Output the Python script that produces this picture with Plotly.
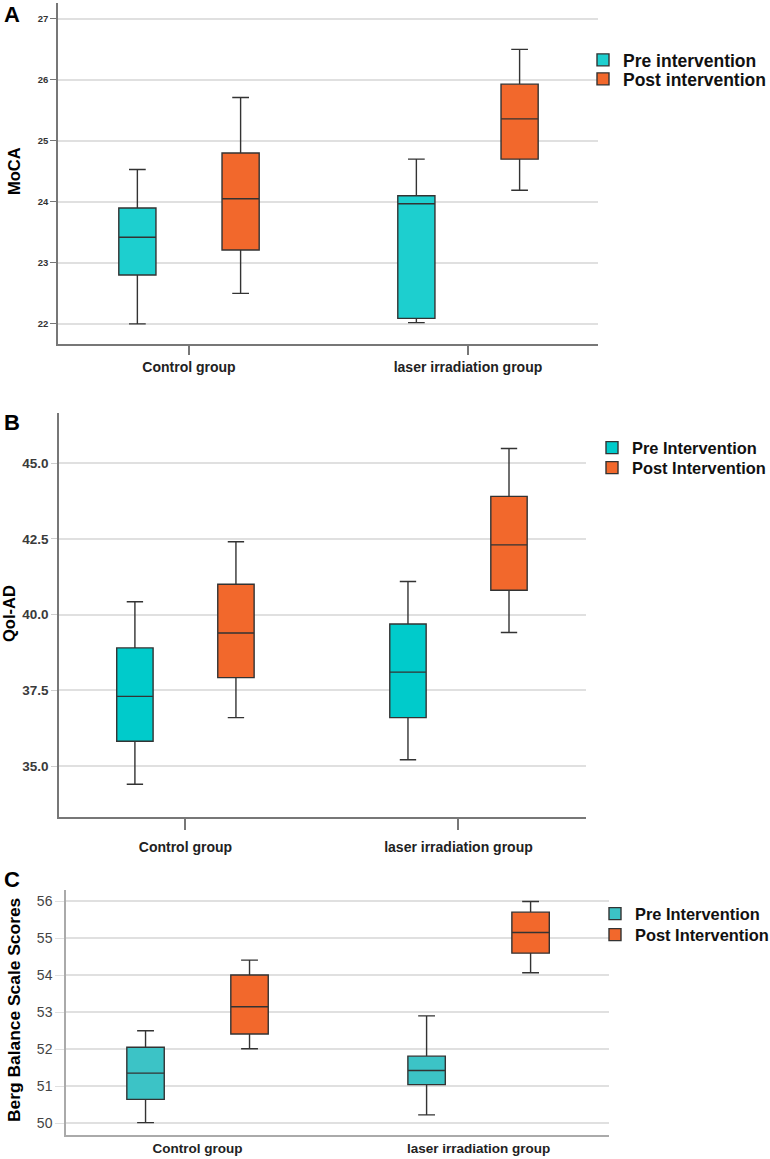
import plotly.graph_objects as go

groups = ["Control group", "laser irradiation group"]

# Panel A: MoCA
moca_pre_low = [22.00, 22.02]
moca_pre_q1 = [22.80, 22.09]
moca_pre_med = [23.42, 23.97]
moca_pre_q3 = [23.90, 24.10]
moca_pre_high = [24.53, 24.70]
moca_post_low = [22.50, 24.19]
moca_post_q1 = [23.21, 24.70]
moca_post_med = [24.05, 25.36]
moca_post_q3 = [24.80, 25.93]
moca_post_high = [25.71, 26.50]

# Panel B: QoL-AD
qol_pre_low = [34.40, 35.21]
qol_pre_q1 = [35.82, 36.60]
qol_pre_med = [37.30, 38.10]
qol_pre_q3 = [38.90, 39.69]
qol_pre_high = [40.42, 41.09]
qol_post_low = [36.60, 39.41]
qol_post_q1 = [37.92, 40.80]
qol_post_med = [39.39, 42.30]
qol_post_q3 = [41.00, 43.90]
qol_post_high = [42.40, 45.48]

# Panel C: Berg Balance Scale
bbs_pre_low = [50.01, 50.22]
bbs_pre_q1 = [50.64, 51.04]
bbs_pre_med = [51.35, 51.42]
bbs_pre_q3 = [52.05, 51.81]
bbs_pre_high = [52.50, 52.90]
bbs_post_low = [52.01, 54.07]
bbs_post_q1 = [52.41, 54.60]
bbs_post_med = [53.15, 55.16]
bbs_post_q3 = [54.01, 55.71]
bbs_post_high = [54.41, 56.00]

FONT = "Liberation Sans"
W, H = 770, 1159
ORANGE = "#f2682c"
LINE = "#333333"

fig = go.Figure()

def add_box(name, low, q1, med, q3, high, color, ax, legend, group):
    fig.add_trace(go.Box(
        name=name, x=groups, lowerfence=low, q1=q1, median=med, q3=q3, upperfence=high,
        fillcolor=color, line=dict(color=LINE, width=1.4), whiskerwidth=0.45,
        xaxis="x" + ax, yaxis="y" + ax, legend=legend,
        offsetgroup=group, alignmentgroup="g" + (ax or "1"),
        boxpoints=False, hoverinfo="y",
    ))

add_box("Pre intervention", moca_pre_low, moca_pre_q1, moca_pre_med, moca_pre_q3, moca_pre_high, "#1dcfcf", "", "legend", "pre")
add_box("Post intervention", moca_post_low, moca_post_q1, moca_post_med, moca_post_q3, moca_post_high, ORANGE, "", "legend2", "post")
add_box("Pre Intervention", qol_pre_low, qol_pre_q1, qol_pre_med, qol_pre_q3, qol_pre_high, "#00cbcb", "2", "legend3", "pre")
add_box("Post Intervention", qol_post_low, qol_post_q1, qol_post_med, qol_post_q3, qol_post_high, ORANGE, "2", "legend4", "post")
add_box("Pre Intervention", bbs_pre_low, bbs_pre_q1, bbs_pre_med, bbs_pre_q3, bbs_pre_high, "#3cc3c6", "3", "legend5", "pre")
add_box("Post Intervention", bbs_post_low, bbs_post_q1, bbs_post_med, bbs_post_q3, bbs_post_high, ORANGE, "3", "legend6", "post")

def px_x(a, b):
    return [a / W, b / W]

def px_y(top, bottom):
    return [1 - bottom / H, 1 - top / H]

def xaxis(dom, rng, anchor, ticks, ticklen, linecolor, standoff, size):
    return dict(domain=dom, range=rng, anchor=anchor, type="category",
                showline=True, linecolor=linecolor, linewidth=1.5, showgrid=False,
                ticks=ticks, ticklen=ticklen, tickcolor="#777", tickwidth=1.5,
                ticklabelstandoff=standoff,
                tickfont=dict(family=FONT, size=size, color="#222", weight="bold"),
                zeroline=False, fixedrange=True, automargin=False)

def yaxis(dom, rng, anchor, tickvals, ticktext, size, weight, color, ticklen, tickcolor, linecolor):
    return dict(domain=dom, range=rng, anchor=anchor, showline=True, linecolor=linecolor,
                linewidth=1.5, showgrid=True, gridcolor="#e0e0e0", gridwidth=1.5,
                tickvals=tickvals, ticktext=ticktext, ticks="outside", ticklen=ticklen,
                tickcolor=tickcolor, tickwidth=1.2,
                tickfont=dict(family=FONT, size=size, color=color, weight=weight),
                zeroline=False, fixedrange=True, automargin=False)

a_ticks = [22, 23, 24, 25, 26, 27]
b_ticks = [35.0, 37.5, 40.0, 42.5, 45.0]
c_ticks = [50, 51, 52, 53, 54, 55, 56]

def leg(x_text, y_center, size):
    return dict(x=(x_text - 40) / W, y=1 - y_center / H, xanchor="left", yanchor="middle",
                font=dict(family=FONT, size=size, color="#111", weight="bold"),
                bgcolor="rgba(0,0,0,0)", itemclick=False, itemdoubleclick=False)

fig.update_layout(
    width=W, height=H, margin=dict(l=0, r=0, t=0, b=0, autoexpand=False),
    paper_bgcolor="white", plot_bgcolor="white",
    boxmode="group", boxgap=0.26, boxgroupgap=0.64,
    xaxis=xaxis(px_x(58, 598), [-0.4695, 1.466], "y", "outside", 9, "#777", 0, 14),
    yaxis=yaxis(px_y(3, 344), [21.67, 27.26], "x", a_ticks, [str(v) for v in a_ticks], 9.5, "bold", "#333", 6, "#777", "#777"),
    xaxis2=xaxis(px_x(59, 586), [-0.463, 1.467], "y2", "outside", 11, "#777", 5, 14),
    yaxis2=yaxis(px_y(413, 817), [33.32, 46.65], "x2", b_ticks, ["%.1f" % v for v in b_ticks], 13.5, "bold", "#3a3a3a", 6, "#cfcfcf", "#777"),
    xaxis3=xaxis(px_x(66, 609), [-0.468, 1.464], "y3", "", 0, "#aaa", 0, 13.5),
    yaxis3=yaxis(px_y(890, 1135), [49.675, 56.31], "x3", c_ticks, [str(v) for v in c_ticks], 14, "normal", "#444", 9, "#e0e0e0", "#aaa"),
    legend=leg(623, 60, 17.5),
    legend2=leg(623, 79, 17.5),
    legend3=leg(632, 448, 16.4),
    legend4=leg(632, 468, 16.4),
    legend5=leg(635, 914, 16.4),
    legend6=leg(635, 935, 16.4),
    showlegend=True,
)

def ann(text, x, y, size, angle=0):
    fig.add_annotation(text=text, x=x / W, y=1 - y / H, xref="paper", yref="paper",
                       showarrow=False, textangle=angle, xanchor="center", yanchor="middle",
                       font=dict(family=FONT, size=size, color="#000", weight="bold"))

ann("A", 12, 14, 22)
ann("B", 12, 423, 22)
ann("C", 12, 879, 22)
ann("MoCA", 14, 171, 16.5, -90)
ann("Qol-AD", 9, 614, 16.5, -90)
ann("Berg Balance Scale Scores", 14, 1010, 17.4, -90)

fig.write_html("out.html", config={"displayModeBar": False},
               post_script="document.body.style.margin='0';document.body.style.overflow='hidden';")
